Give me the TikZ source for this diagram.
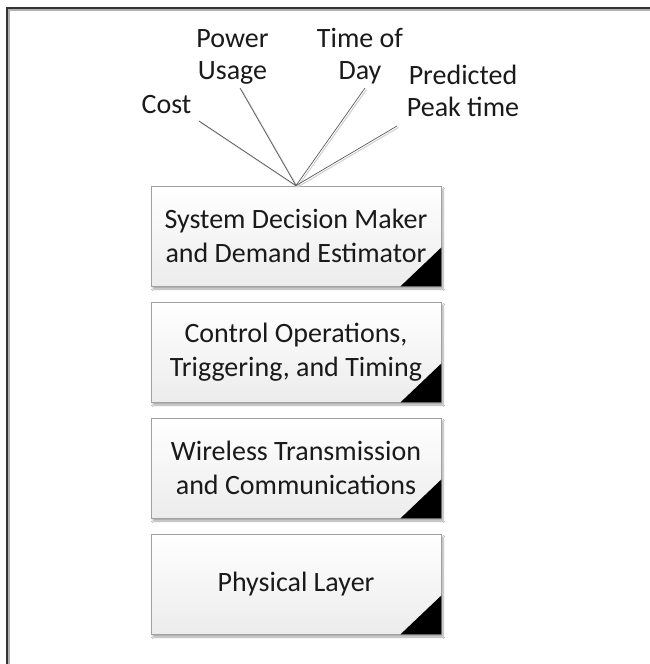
\documentclass[tikz,border=0pt]{standalone}
\usepackage{fontspec}
\setmainfont{Carlito}
\usetikzlibrary{shadows.blur}

\definecolor{framecol}{HTML}{333333}
\definecolor{frameshade}{HTML}{B0B0B0}
\definecolor{boxedge}{HTML}{A0A0A0}
\definecolor{boxfill}{HTML}{ECECEC}
\definecolor{feedcol}{HTML}{5A5A5A}
\definecolor{feedshade}{HTML}{D0D0D0}
\definecolor{inkcol}{HTML}{1A1A1A}

\tikzset{
  layerbox/.style={draw=boxedge, line width=0.8pt, top color=white, bottom color=boxfill,
    minimum width=290pt, minimum height=100pt, inner sep=0pt, align=center,
    text=inkcol, font=\fontsize{28}{34}\selectfont,
    blur shadow={shadow xshift=2pt, shadow yshift=-3pt, shadow blur steps=6, shadow opacity=35}},
  cornermark/.style={fill=black},
  lbl/.style={align=center, inner sep=0pt, text=inkcol, font=\fontsize{28}{32}\selectfont},
  feed/.style={draw=feedcol, line width=0.7pt},
  feedshadow/.style={draw=feedshade, line width=1pt},
}

\begin{document}
\begin{tikzpicture}[x=1pt,y=-1pt]
\useasboundingbox (0,0) rectangle (650,664);
\fill[white] (0,0) rectangle (650,664);

% outer frame (top and left edges)
\draw[frameshade, line width=1.5pt] (9,664) -- (9,10) -- (650,10);
\draw[framecol, line width=2pt] (7,664) -- (7,8) -- (650,8);

% layer stack
\node[layerbox] (sdm) at (296,236) {System Decision Maker\\and Demand Estimator};
\node[layerbox] (ctl) at (296,352) {Control Operations,\\Triggering, and Timing};
\node[layerbox] (wtc) at (296,468) {Wireless Transmission\\and Communications};
\node[layerbox] (phy) at (296,584) {Physical Layer};

% black corner triangles
\foreach \b in {sdm,ctl,wtc,phy}{
  \fill[cornermark] (\b.south east) -- ([yshift=39pt]\b.south east) -- ([xshift=-41pt]\b.south east) -- cycle;
}

% input labels
\node[lbl] (cost) at (166.5,105) {Cost};
\node[lbl] (pwr) at (232.5,56.5) {Power\\Usage};
\node[lbl] (tod) at (360,56) {Time of\\Day};
\node[lbl] (peak) at (463,91) {Predicted\\Peak time};

% tails of the input lines
\coordinate (cost-tail) at (199,121);
\coordinate (pwr-tail) at (240,88);
\coordinate (tod-tail) at (365,88);
\coordinate (peak-tail) at (397,126);

% input lines converging on the decision maker
\foreach \t in {cost-tail,pwr-tail,tod-tail,peak-tail}{
  \draw[feedshadow] ([shift={(1.5pt,-1.5pt)}]\t) -- ([shift={(1.5pt,-1.5pt)}]sdm.north);
}
\foreach \t in {cost-tail,pwr-tail,tod-tail,peak-tail}{
  \draw[feed] (\t) -- (sdm.north);
}
\end{tikzpicture}
\end{document}
